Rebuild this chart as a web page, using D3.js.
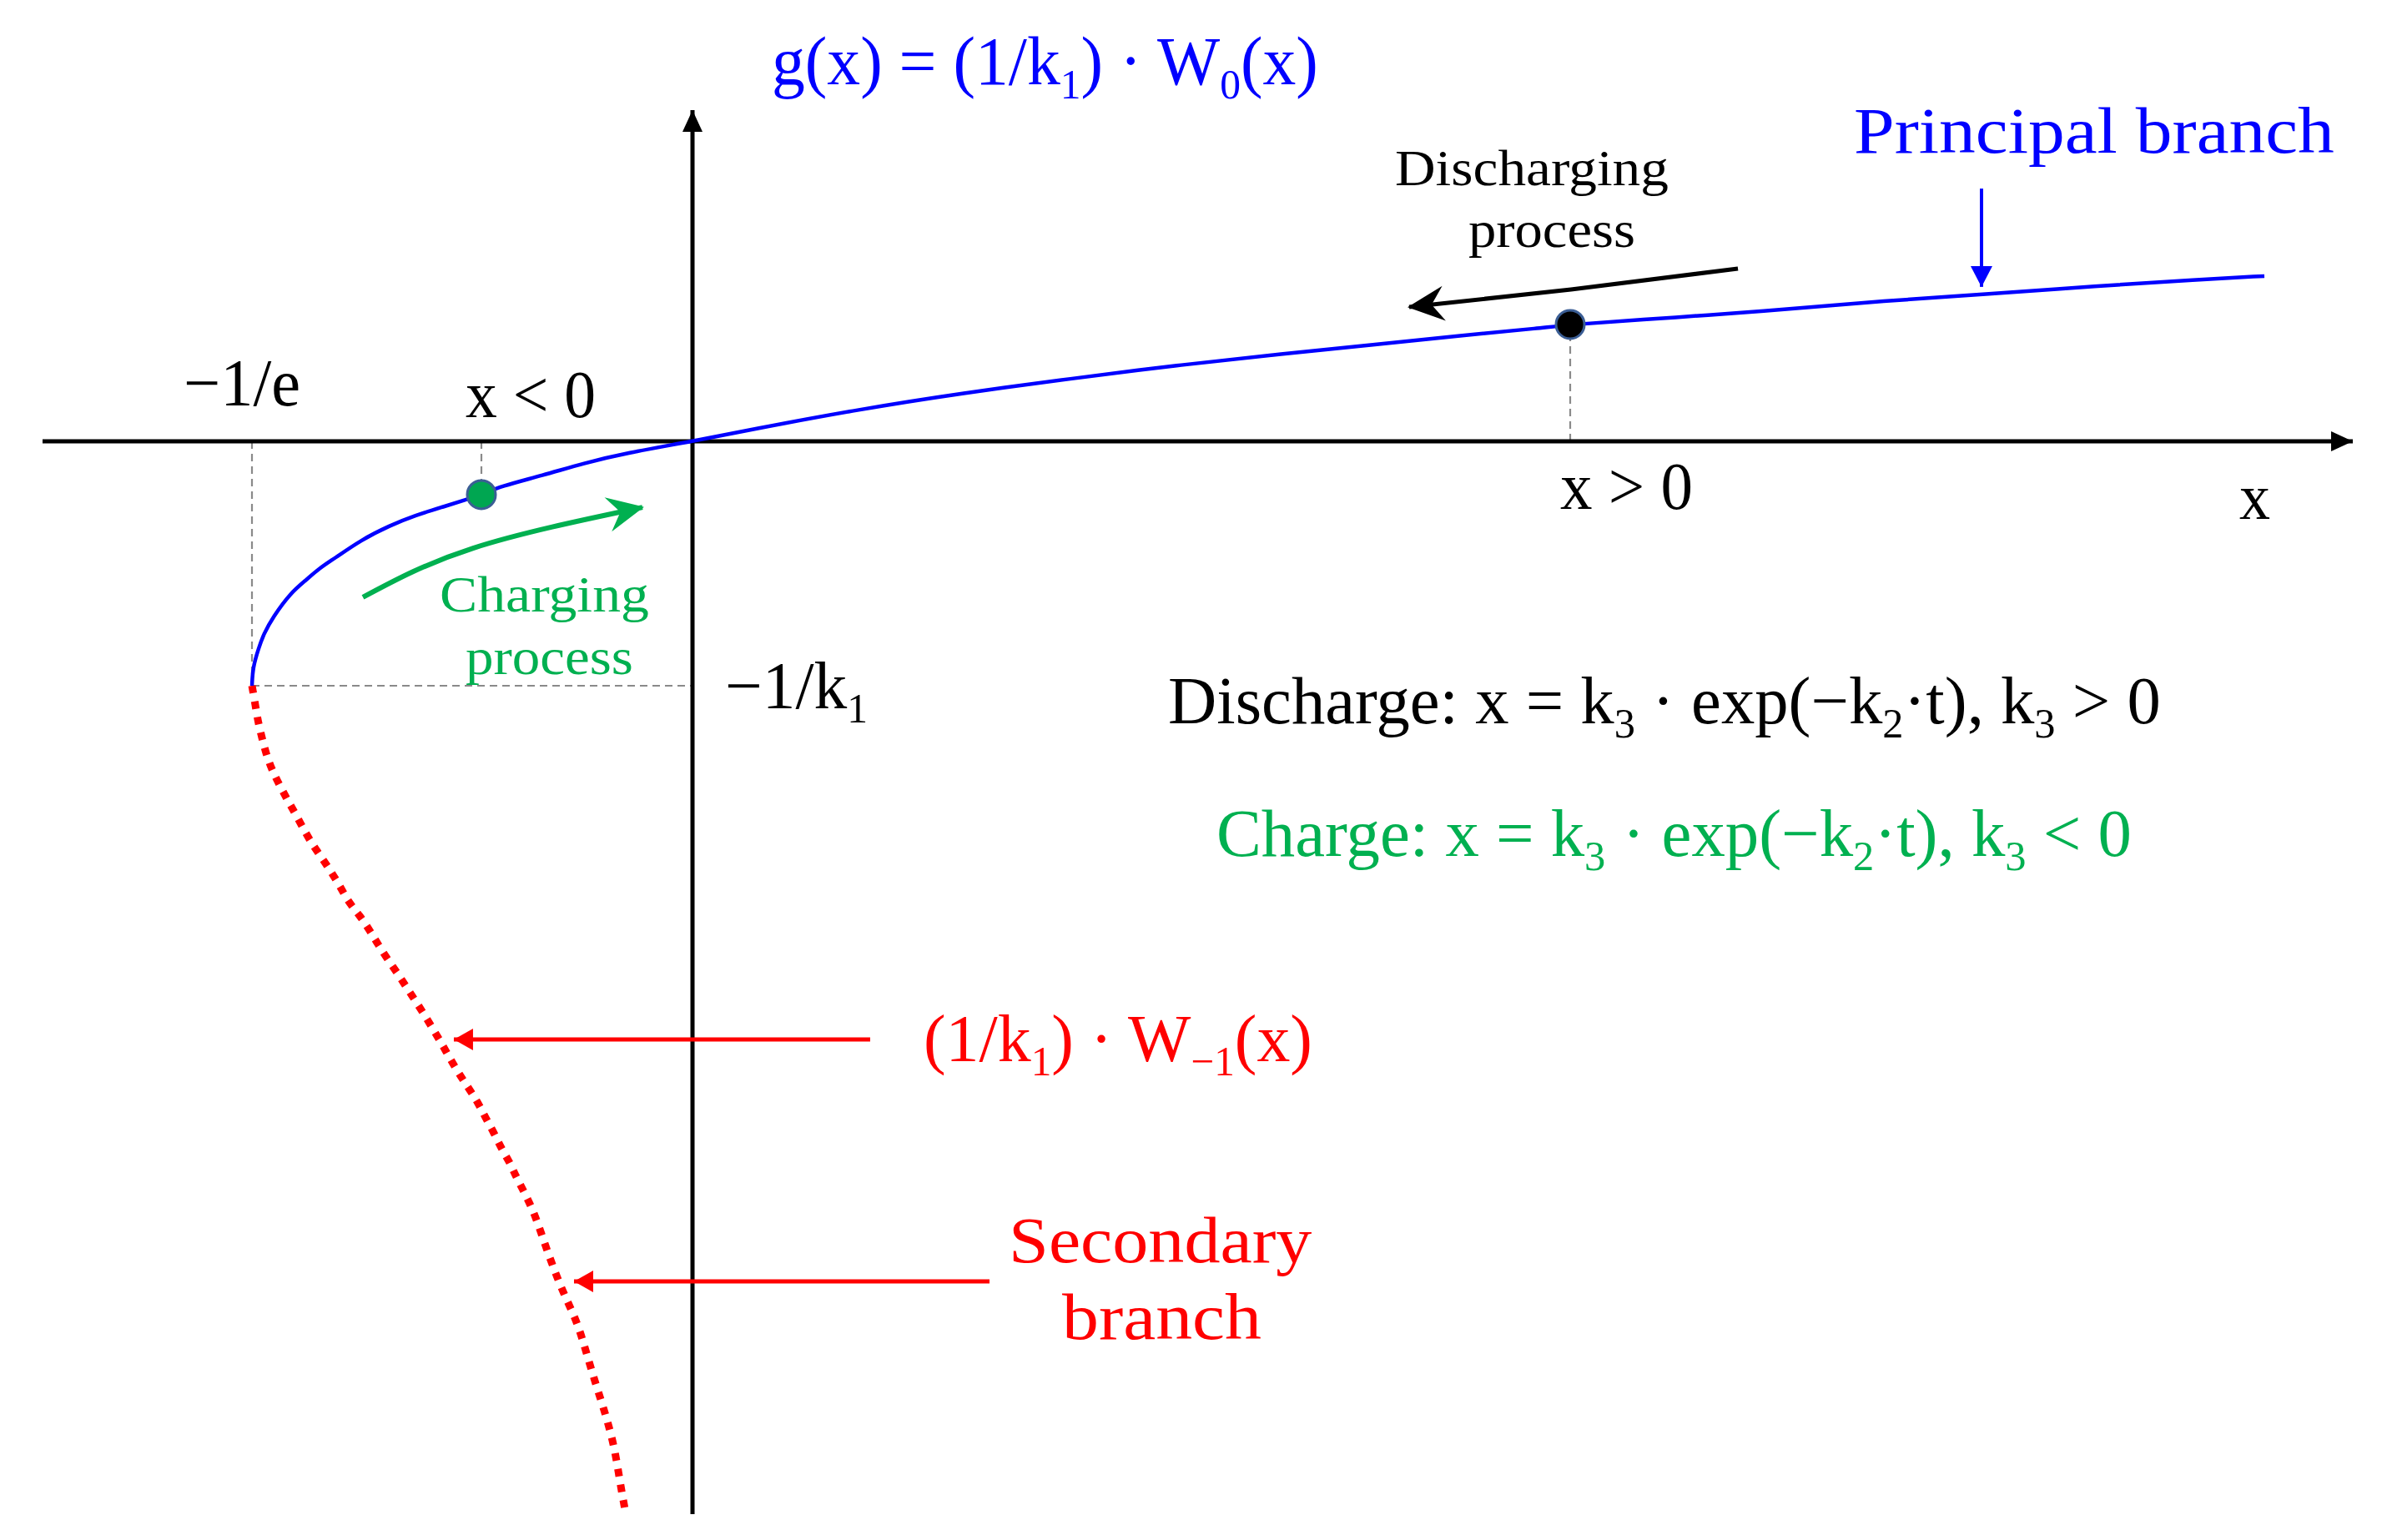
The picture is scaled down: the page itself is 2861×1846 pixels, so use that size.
<!DOCTYPE html>
<html><head><meta charset="utf-8">
<script src="https://cdn.jsdelivr.net/npm/d3@7"></script>
<style>html,body{margin:0;padding:0;background:#fff;} svg{display:block;}</style>
</head><body><svg id="chart"></svg>
<script>
// ---------------- data (in axis units) ----------------
const xDomain = [-0.5425, 1.3886];
const yDomain = [-4.389, 1.3686];

// principal branch g(x) = (1/k1)·W0(x)
const principalX = [-0.3677,-0.3670,-0.3621,-0.3579,-0.3503,-0.3357,-0.3224,-0.3113,-0.2994,-0.2765,-0.2528,-0.2319,-0.2068,-0.1894,-0.1762,-0.1602,-0.1253,-0.0905,-0.0557,0,0.0487,0.1379,0.2263,0.3155,0.4039,0.4930,0.5710,0.6407,0.7103,0.7326,0.8266,0.8844,1.0014,1.0759,1.1720,1.2570,1.3120];
const principalY = [-1.000,-0.925,-0.846,-0.788,-0.720,-0.621,-0.567,-0.519,-0.481,-0.403,-0.345,-0.304,-0.266,-0.239,-0.218,-0.184,-0.140,-0.089,-0.048,0,0.048,0.130,0.198,0.256,0.311,0.358,0.396,0.433,0.464,0.478,0.509,0.529,0.577,0.601,0.635,0.662,0.676];

// secondary branch (1/k1)·W-1(x)
const secondaryX = [-0.3677,-0.3649,-0.3628,-0.3593,-0.3558,-0.3510,-0.3447,-0.3377,-0.3308,-0.3238,-0.3169,-0.3085,-0.3008,-0.2939,-0.2869,-0.2779,-0.2695,-0.2625,-0.2549,-0.2465,-0.2389,-0.2312,-0.2235,-0.2159,-0.2089,-0.2019,-0.1950,-0.1866,-0.1790,-0.1727,-0.1657,-0.1595,-0.1525,-0.1469,-0.1337,-0.1247,-0.1163,-0.1072,-0.0961,-0.0891,-0.0808,-0.0717,-0.0648,-0.0606,-0.0564];
const secondaryY = [-1.000,-1.078,-1.143,-1.215,-1.280,-1.345,-1.406,-1.471,-1.529,-1.594,-1.652,-1.710,-1.768,-1.823,-1.887,-1.939,-2.000,-2.058,-2.116,-2.174,-2.232,-2.290,-2.348,-2.410,-2.468,-2.529,-2.587,-2.648,-2.706,-2.768,-2.829,-2.894,-2.949,-3.014,-3.133,-3.263,-3.379,-3.491,-3.604,-3.720,-3.857,-3.993,-4.123,-4.256,-4.369];

// marked states: branch point (-1/e, -1/k1), charging state (x<0), discharging state (x>0)
const branchPoint = [-0.3677, -1.0];
const stateNames = ["charging", "discharging"];
const stateX = [-0.1762, 0.7326];
const stateY = [-0.218, 0.478];

// process arrows
const chargeArrowX = [-0.2751, -0.1831, -0.0418];
const chargeArrowY = [-0.638, -0.437, -0.270];
const dischargeArrowX = [0.8726, 0.7333, 0.5982];
const dischargeArrowY = [0.7065, 0.6212, 0.5495];

// pointer arrows to the branches
const pointerFromX = [0.1483, 0.2479];
const pointerToX = [-0.2006, -0.1003];
const pointerY = [-2.447, -3.437];
const principalPointer = {x: 1.0759, y0: 1.034, y1: 0.625};

// ---------------- layout ----------------
const W = 2861, H = 1846;
const FONT = "'Liberation Serif','Times New Roman',serif";
const BLUE = "#0000FF", RED = "#FF0000", GREEN = "#00B050", BLACK = "#000000";

const svg = d3.select("#chart").attr("width", W).attr("height", H).attr("viewBox", `0 0 ${W} ${H}`);
svg.append("rect").attr("width", W).attr("height", H).attr("fill", "#fff");

const x = d3.scaleLinear().domain(xDomain).range([51, 2824]);
const y = d3.scaleLinear().domain(yDomain).range([1815, 128]);

const defs = svg.append("defs");
function stealth(id, color) {
  defs.append("marker").attr("id", id).attr("markerUnits", "userSpaceOnUse")
    .attr("markerWidth", 60).attr("markerHeight", 60).attr("viewBox", "-50 -25 60 50")
    .attr("refX", 0).attr("refY", 0).attr("orient", "auto")
    .append("path").attr("d", "M2,0 L-42,-21 L-27,0 L-42,21 Z").attr("fill", color);
}
function tri(id, color, len, hw) {
  defs.append("marker").attr("id", id).attr("markerUnits", "userSpaceOnUse")
    .attr("markerWidth", len + 10).attr("markerHeight", 2 * hw + 10)
    .attr("viewBox", `${-len - 5} ${-hw - 5} ${len + 10} ${2 * hw + 10}`)
    .attr("refX", 0).attr("refY", 0).attr("orient", "auto")
    .append("path").attr("d", `M0,0 L${-len},${-hw} L${-len},${hw} Z`).attr("fill", color);
}
stealth("stealthBlack", BLACK);
stealth("stealthGreen", GREEN);
tri("triRed", RED, 23, 13);
tri("triBlue", BLUE, 25, 13);
tri("triAxis", BLACK, 26, 12);

// ---------------- guide lines ----------------
const guide = svg.append("g").attr("stroke", "#8a8a8a").attr("stroke-width", 2.2)
  .attr("stroke-dasharray", "9 6").attr("fill", "none");
guide.append("line").attr("x1", x(branchPoint[0])).attr("x2", x(branchPoint[0]))
  .attr("y1", y(0)).attr("y2", y(branchPoint[1]));
guide.append("line").attr("x1", x(branchPoint[0])).attr("x2", x(0))
  .attr("y1", y(branchPoint[1])).attr("y2", y(branchPoint[1]));
stateX.forEach((v, i) => {
  guide.append("line").attr("x1", x(v)).attr("x2", x(v)).attr("y1", y(0)).attr("y2", y(stateY[i]));
});

// ---------------- axes ----------------
const xAxis = d3.axisBottom(x).tickValues([]).tickSizeOuter(0);
const yAxis = d3.axisLeft(y).tickValues([]).tickSizeOuter(0);
const gx = svg.append("g").attr("transform", `translate(0,${y(0)})`).call(xAxis);
const gy = svg.append("g").attr("transform", `translate(${x(0)},0)`).call(yAxis);
gx.select(".domain").attr("stroke", BLACK).attr("stroke-width", 5).attr("d", `M${x.range()[0]},0H${x.range()[1] - 4}`)
  .attr("marker-end", "url(#triAxis)");
gy.select(".domain").attr("stroke", BLACK).attr("stroke-width", 5)
  .attr("d", `M0,${y.range()[0]}V${y.range()[1] + 4}`).attr("marker-end", "url(#triAxis)");

// ---------------- curves ----------------
const line = d3.line().x(d => x(d[0])).y(d => y(d[1])).curve(d3.curveBasis);
svg.append("path").datum(secondaryX.map((v, i) => [v, secondaryY[i]]))
  .attr("d", line).attr("fill", "none").attr("stroke", RED).attr("stroke-width", 9)
  .attr("stroke-dasharray", "9 10");
svg.append("path").datum(principalX.map((v, i) => [v, principalY[i]]))
  .attr("d", line).attr("fill", "none").attr("stroke", BLUE).attr("stroke-width", 4.5);

// ---------------- state dots ----------------
svg.selectAll("circle.state").data(stateNames).join("circle").attr("class", "state")
  .attr("cx", (d, i) => x(stateX[i])).attr("cy", (d, i) => y(stateY[i])).attr("r", 17)
  .attr("fill", (d, i) => i === 0 ? "#00A651" : "#000000")
  .attr("stroke", "#3B5E95").attr("stroke-width", 3);

// ---------------- process arrows ----------------
const arrowLine = d3.line().x(d => x(d[0])).y(d => y(d[1])).curve(d3.curveNatural);
svg.append("path").datum(chargeArrowX.map((v, i) => [v, chargeArrowY[i]]))
  .attr("d", arrowLine).attr("fill", "none").attr("stroke", GREEN).attr("stroke-width", 6)
  .attr("marker-end", "url(#stealthGreen)");
svg.append("path").datum(dischargeArrowX.map((v, i) => [v, dischargeArrowY[i]]))
  .attr("d", arrowLine).attr("fill", "none").attr("stroke", BLACK).attr("stroke-width", 5)
  .attr("marker-end", "url(#stealthBlack)");

// pointers
pointerY.forEach((v, i) => {
  svg.append("line").attr("x1", x(pointerFromX[i])).attr("x2", x(pointerToX[i]) + 2)
    .attr("y1", y(v)).attr("y2", y(v)).attr("stroke", RED).attr("stroke-width", 5)
    .attr("marker-end", "url(#triRed)");
});
svg.append("line").attr("x1", x(principalPointer.x)).attr("x2", x(principalPointer.x))
  .attr("y1", y(principalPointer.y0)).attr("y2", y(principalPointer.y1) - 2)
  .attr("stroke", BLUE).attr("stroke-width", 4).attr("marker-end", "url(#triBlue)");

// ---------------- labels ----------------
const labels = [
  {segs: [["g(x) = (1/k"], ["1", 1], [") · W"], ["0", 1], ["(x)"]], x0: 925, x1: 1580, yb: 101, fs: 82, c: BLUE},
  {segs: [["Principal branch"]], x0: 2222, x1: 2798, yb: 183, fs: 78, c: BLUE},
  {segs: [["Discharging"]], x0: 1672, x1: 2000, yb: 222, fs: 61, c: BLACK},
  {segs: [["process"]], x0: 1760, x1: 1960, yb: 296, fs: 61, c: BLACK},
  {segs: [["−1/e"]], x0: 220, x1: 360, yb: 486, fs: 80, c: BLACK},
  {segs: [["x < 0"]], x0: 558, x1: 714, yb: 500, fs: 80, c: BLACK},
  {segs: [["x > 0"]], x0: 1870, x1: 2029, yb: 610, fs: 80, c: BLACK},
  {segs: [["x"]], x0: 2684, x1: 2721, yb: 622, fs: 78, c: BLACK},
  {segs: [["−1/k"], ["1", 1]], x0: 869, x1: 1040, yb: 849, fs: 80, c: BLACK},
  {segs: [["Charging"]], x0: 527, x1: 778, yb: 733, fs: 62, c: GREEN},
  {segs: [["process"]], x0: 558, x1: 759, yb: 808, fs: 62, c: GREEN},
  {segs: [["Discharge: x = k"], ["3", 1], [" · exp(−k"], ["2", 1], ["·t), k"], ["3", 1], [" > 0"]], x0: 1400, x1: 2590, yb: 867, fs: 80, c: BLACK},
  {segs: [["Charge: x = k"], ["3", 1], [" · exp(−k"], ["2", 1], ["·t), k"], ["3", 1], [" < 0"]], x0: 1458, x1: 2555, yb: 1026, fs: 80, c: GREEN},
  {segs: [["(1/k"], ["1", 1], [") · W"], ["−1", 1], ["(x)"]], x0: 1107, x1: 1573, yb: 1272, fs: 81, c: RED},
  {segs: [["Secondary"]], x0: 1209, x1: 1573, yb: 1513, fs: 79, c: RED},
  {segs: [["branch"]], x0: 1273, x1: 1512, yb: 1605, fs: 79, c: RED}
];

labels.forEach(L => {
  const t = svg.append("text").attr("x", L.x0).attr("y", L.yb)
    .attr("font-family", FONT).attr("font-size", L.fs).attr("fill", L.c)
    .style("white-space", "pre");
  const shift = Math.round(L.fs * 0.21);
  let down = false;
  L.segs.forEach(s => {
    const ts = t.append("tspan").text(s[0]);
    if (s[1]) {
      ts.attr("font-size", Math.round(L.fs * 0.62));
      if (!down) { ts.attr("dy", shift); down = true; }
    } else if (down) {
      ts.attr("dy", -shift); down = false;
    }
  });
  const bb = t.node().getBBox();
  const k = (L.x1 - L.x0) / bb.width;
  t.attr("transform", `translate(${L.x0},0) scale(${k},1) translate(${-bb.x},0)`);
});
</script>
</body></html>
